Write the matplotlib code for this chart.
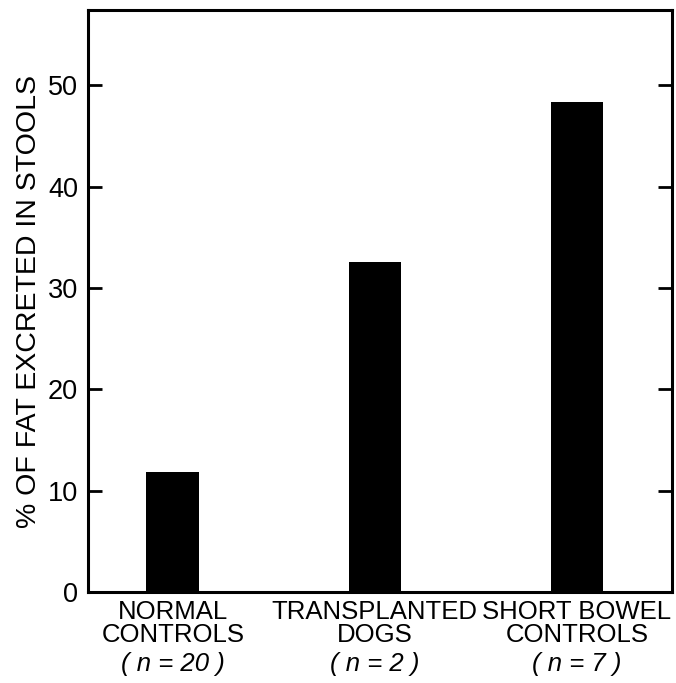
import matplotlib.pyplot as plt
from matplotlib.transforms import blended_transform_factory

# Datos
groups = ['NORMAL\nCONTROLS', 'TRANSPLANTED\nDOGS', 'SHORT BOWEL\nCONTROLS']
n_values = ['20', '2', '7']
fat_pct = [11.9, 32.6, 48.3]

plt.rcParams['font.family'] = ['Liberation Sans', 'DejaVu Sans']

fig = plt.figure(figsize=(6.76, 6.83), dpi=100)
ax = fig.add_axes([0.130, 0.133, 0.864, 0.852])

x = range(len(groups))
ax.bar(x, fat_pct, width=0.26, color='black')

ax.set_xlim(-0.42, 2.47)
ax.set_ylim(0, 57.4)
ax.set_yticks([0, 10, 20, 30, 40, 50])
ax.tick_params(axis='y', direction='in', length=10, width=2, labelsize=19.5,
               right=True, pad=7)
ax.set_xticks(list(x))
ax.set_xticklabels(groups, fontsize=18.5, linespacing=0.92)
ax.tick_params(axis='x', length=0, pad=6)

trans = blended_transform_factory(ax.transData, fig.transFigure)
for xi, n in zip(x, n_values):
    ax.text(xi, 0.028, f'( n = {n} )', transform=trans, ha='center',
            va='center', fontsize=18.5, style='italic')

for s in ax.spines.values():
    s.set_linewidth(2.2)

ax.set_ylabel('% OF FAT EXCRETED IN STOOLS', fontsize=20.5, labelpad=4)

plt.savefig('out.png', dpi=100)
